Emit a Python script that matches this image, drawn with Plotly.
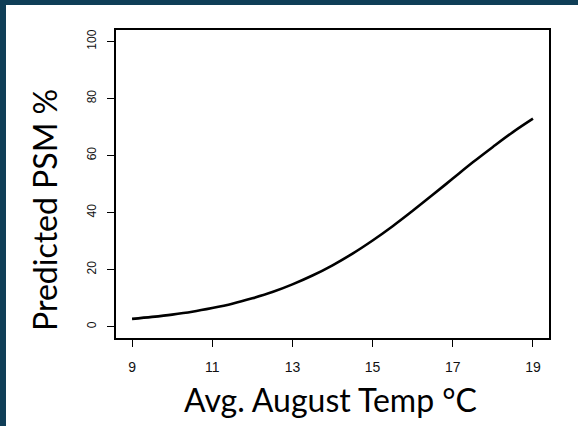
import plotly.graph_objects as go

# Data
temp_c = [9, 9.5, 10, 10.5, 11, 11.5, 12, 12.5, 13, 13.5, 14, 14.5, 15, 15.5, 16, 16.5, 17, 17.5, 18, 18.5, 19]
psm_pct = [2.7, 3.4, 4.2, 5.2, 6.5, 8.0, 9.9, 12.1, 14.8, 17.9, 21.5, 25.6, 30.2, 35.2, 40.6, 46.2, 51.9, 57.6, 63.0, 68.2, 72.9]
x_ticks = [9, 11, 13, 15, 17, 19]
y_ticks = [0, 20, 40, 60, 80, 100]

W, H = 578, 426
L, R, T, B = 116, 29, 30, 88
pw, ph = W - L - R, H - T - B

def px_x(p):
    return (p - L) / pw

def px_y(p):
    return (H - B - p) / ph

navy = "#0f3e57"

fig = go.Figure()
fig.add_trace(go.Scatter(x=temp_c, y=psm_pct, mode="lines",
                         line=dict(color="black", width=2.6, shape="spline"),
                         showlegend=False, hoverinfo="skip"))

fig.update_layout(
    width=W, height=H,
    margin=dict(l=L, r=R, t=T, b=B),
    paper_bgcolor="white", plot_bgcolor="white",
    xaxis=dict(range=[8.6, 19.4], tickvals=x_ticks, ticktext=[str(v) for v in x_ticks],
               showgrid=False, zeroline=False, showline=True, mirror=True,
               linecolor="black", linewidth=1.5, ticks="outside", ticklen=7,
               tickcolor="black", tickwidth=1, ticklabelstandoff=8,
               tickfont=dict(family="Liberation Sans, Arial", size=14, color="#111")),
    yaxis=dict(range=[-4, 104], tickvals=y_ticks, ticktext=[str(v) for v in y_ticks],
               showgrid=False, zeroline=False, showline=True, mirror=True,
               linecolor="black", linewidth=1.5, ticks="outside", ticklen=7,
               tickcolor="black", tickwidth=1, tickangle=-90, ticklabelstandoff=6,
               tickfont=dict(family="Liberation Sans, Arial", size=12, color="#111")),
    shapes=[
        dict(type="rect", xref="paper", yref="paper",
             x0=px_x(0), x1=px_x(6), y0=px_y(H), y1=px_y(0),
             fillcolor=navy, line=dict(width=0), layer="below"),
        dict(type="rect", xref="paper", yref="paper",
             x0=px_x(0), x1=px_x(W), y0=px_y(5), y1=px_y(0),
             fillcolor=navy, line=dict(width=0), layer="below"),
    ],
    annotations=[
        dict(text="Avg. August Temp °C", xref="paper", yref="paper",
             x=px_x(330), y=px_y(399), xanchor="center", yanchor="middle",
             showarrow=False, font=dict(family="Lato, Open Sans", size=32, color="black")),
        dict(text="Predicted PSM %", xref="paper", yref="paper",
             x=px_x(44), y=px_y(210), xanchor="center", yanchor="middle", textangle=-90,
             showarrow=False, font=dict(family="Lato, Open Sans", size=32, color="black")),
    ],
)

fig.write_html("out.html")
